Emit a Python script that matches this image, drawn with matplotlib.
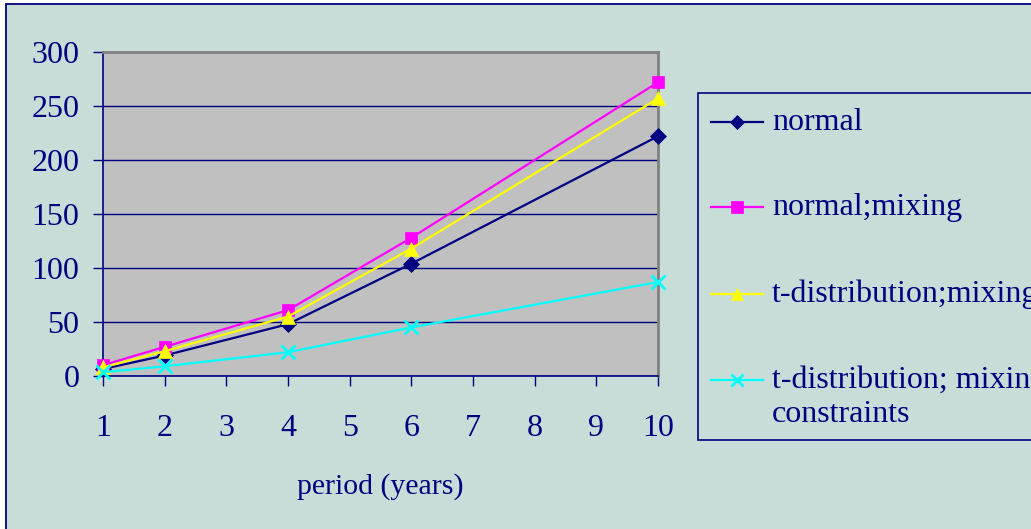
import matplotlib.pyplot as plt
from matplotlib.patches import Rectangle
from matplotlib.lines import Line2D
import numpy as np

# period (years) and simulated values per model
years = [1, 2, 4, 6, 10]
normal = [6.5, 19, 48, 104, 222]
normal_mixing = [10, 27, 61, 128, 272]
t_mixing = [8, 23, 55, 118, 257]
t_constraints = [3.5, 9, 22, 45, 87]

labels = ['normal', 'normal;mixing', 't-distribution;mixing',
          't-distribution; mixing\nconstraints']
series = [normal, normal_mixing, t_mixing, t_constraints]
colors = ['#000080', '#FF00FF', '#FFFF00', '#00FFFF']
markers = ['D', 's', '^', 'x']
msizes = [8, 9, 10, 10]

navy = '#000080'
bg = '#C8DDD8'
plt.rcParams['font.family'] = 'Liberation Serif'

W, H = 1031, 529
fig = plt.figure(figsize=(W / 100, H / 100), dpi=100, facecolor='white')

# chart area background with its border
fig.patches.append(Rectangle((6 / W, -0.05), 1.1, 1 - 4 / H + 0.05,
                             transform=fig.transFigure, facecolor=bg,
                             edgecolor=navy, linewidth=1.3, zorder=-5))

ax = fig.add_axes([103 / W, (H - 376) / H, (658 - 103) / W, (376 - 52) / H])
ax.set_facecolor('#C0C0C0')

for vals, c, m, ms in zip(series, colors, markers, msizes):
    ax.plot(years, vals, color=c, linewidth=1.6, marker=m, markersize=ms,
            markeredgewidth=2 if m == 'x' else 0.5, clip_on=False, zorder=3)

ax.set_xlim(1, 10)
ax.set_ylim(0, 300)
ax.set_xticks(np.arange(1, 11))
ax.set_yticks(np.arange(0, 301, 50))
ax.yaxis.grid(True, color=navy, linewidth=1)
ax.set_axisbelow(True)

for s in ['left', 'bottom']:
    ax.spines[s].set_color(navy)
    ax.spines[s].set_linewidth(1.2)
for s in ['top', 'right']:
    ax.spines[s].set_color('#808080')
    ax.spines[s].set_linewidth(2)

ax.tick_params(axis='y', length=7, width=1, color=navy, pad=10,
               labelsize=23, labelcolor=navy)
ax.tick_params(axis='x', length=7, width=1, color=navy, pad=20,
               labelsize=23, labelcolor=navy)
ax.set_xlabel('period (years)', fontsize=21.5, color=navy, labelpad=22)

# legend box drawn in pixel positions of the figure
fig.patches.append(Rectangle((698 / W, (H - 440) / H), 0.5, (440 - 93) / H,
                             transform=fig.transFigure, facecolor=bg,
                             edgecolor=navy, linewidth=1.2, zorder=1))
rows = [122, 207, 294, 380]
for lab, c, m, ms, yy in zip(labels, colors, markers, msizes, rows):
    yf = (H - yy) / H
    fig.add_artist(Line2D([711 / W, 763 / W], [yf, yf], color=c, linewidth=1.6,
                          transform=fig.transFigure, zorder=2))
    fig.add_artist(Line2D([737 / W], [yf], color=c, marker=m, markersize=ms - 1,
                          markeredgewidth=2 if m == 'x' else 0.5,
                          transform=fig.transFigure, zorder=2))
    for k, line in enumerate(lab.split('\n')):
        fig.text(772 / W, (H - yy - 35 * k) / H, line, fontsize=23, color=navy,
                 va='center', zorder=3)

fig.savefig('out.png', dpi=100, facecolor='white')
